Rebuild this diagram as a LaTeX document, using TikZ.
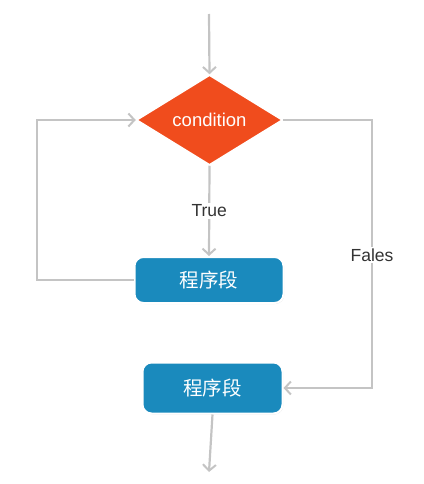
\documentclass[tikz,border=0pt]{standalone}
\usepackage{fontspec}
\setmainfont{Liberation Sans}
\newfontfamily\cjk{Noto Sans CJK SC}
\usetikzlibrary{arrows.meta,shapes.geometric,shadows}
\definecolor{cond}{HTML}{F04C1D}
\definecolor{boxblue}{HTML}{1A8ABD}
\definecolor{conn}{HTML}{C4C4C4}
\definecolor{lbl}{HTML}{333333}
\begin{document}
\begin{tikzpicture}[x=1pt,y=-1pt,
  conline/.style={draw=conn,line width=2.2pt},
  arr/.style={conline,-{Straight Barb[length=6pt,width=13pt,line width=2pt]}},
  condnode/.style={diamond,fill=cond,draw=white,line width=1.5pt,aspect=1.63,
    minimum width=146pt,minimum height=90pt,inner sep=0pt,text=white,font=\fontsize{18.5}{20}\selectfont,
    drop shadow={shadow xshift=0pt,shadow yshift=0pt,fill=black!25,opacity=0.4}},
  procbox/.style={rectangle,rounded corners=9pt,fill=boxblue,draw=white,line width=2pt,
    text=white,font=\cjk\fontsize{19.5}{21}\selectfont,inner sep=0pt,
    drop shadow={shadow xshift=0.8pt,shadow yshift=-1pt,fill=black!30,opacity=0.35}},
  lab/.style={text=lbl,font=\fontsize{17.5}{19}\selectfont,fill=white,inner sep=2pt}]
\useasboundingbox (0,0) rectangle (423,484);
\coordinate (start) at (209,14);
\node[condnode] (c) at (209.5,120) {condition};
\node[procbox,minimum width=149pt,minimum height=46pt] (p1) at (209,280) {程序段};
\node[procbox,minimum width=140pt,minimum height=51pt] (p2) at (212.5,388) {程序段};
\coordinate (end) at (209,472);
\coordinate (lc) at (37,120);
\coordinate (rc) at (372,120);
\draw[arr] (start) -- (c.north);
\draw[arr] (c.south) -- node[lab] (t) {True} (p1.north);
\draw[arr] (p1.west) -| (lc) -- (c.west);
\draw[arr] (c.east) -- (rc) |- node[lab,pos=0.252] (f) {Fales} (p2.east);
\draw[arr] (p2.south) -- (end);
\end{tikzpicture}
\end{document}
